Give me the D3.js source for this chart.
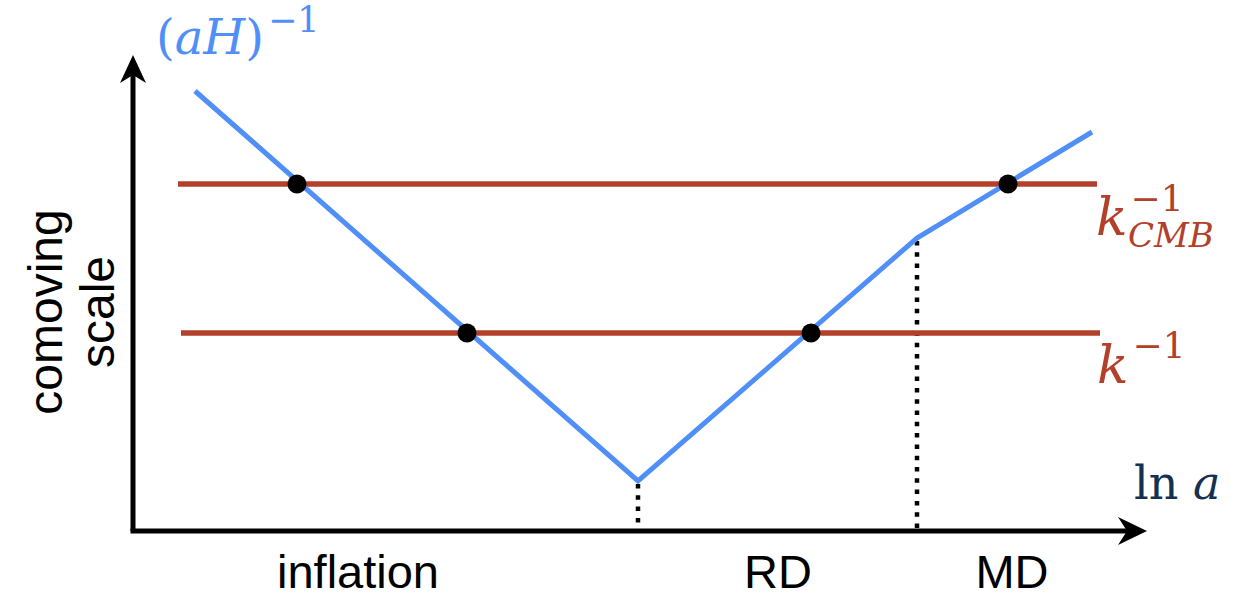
<!DOCTYPE html>
<html><head><meta charset="utf-8">
<script src="https://cdn.jsdelivr.net/npm/d3@7"></script>
<style>body{margin:0;background:#fff}</style>
</head><body><svg id="c" width="1245" height="598"></svg>
<script>
// (aH)^-1 curve, in ln a (x) and comoving scale (y) units
const curveX = [6.2, 50.5, 78.4, 95.9];
const curveY = [110, 12.5, 73.25, 99.75];
// horizontal scales: k_CMB^-1 and k^-1
const scaleNames = ["kCMB", "k"];
const scaleLevels = [86.75, 49.5];
const scaleStart = [4.5, 4.8];
const scaleEnd = [96.4, 96.7];
// horizon crossing points
const crossX = [16.4, 33.4, 67.8, 87.5];
const crossY = [86.75, 49.5, 49.5, 86.75];
// epoch transitions (end of inflation, matter-radiation equality)
const transX = [50.5, 78.4];
const transTop = [12.5, 73.25];
// epoch labels
const epochLabels = ["inflation", "RD", "MD"];
const epochX = [22.5, 64.5, 87.9];

const svg = d3.select("#c");
const x = d3.scaleLinear().domain([0, 100]).range([133, 1133]);
const y = d3.scaleLinear().domain([0, 100]).range([531, 131]);

const BLUE = "#4f8ff7", RED = "#b3402a", BLACK = "#000";

// axes
svg.append("path").attr("d", `M${x(0)},${y(0)}V${y(117)}`)
  .attr("stroke", BLACK).attr("stroke-width", 5).attr("fill", "none");
svg.append("path").attr("d", `M${x(0)-2.5},${y(0)}H${x(100.7)}`)
  .attr("stroke", BLACK).attr("stroke-width", 5).attr("fill", "none");
// arrow heads
const yt = y(119), xt = x(101.4);
svg.append("path").attr("d", `M${x(0)},${yt} L${x(0)-13},${yt+28} L${x(0)},${yt+20} L${x(0)+13},${yt+28} Z`).attr("fill", BLACK);
svg.append("path").attr("d", `M${xt},${y(0)} L${xt-29},${y(0)-14} L${xt-20},${y(0)} L${xt-29},${y(0)+14} Z`).attr("fill", BLACK);

// dotted transitions
transX.forEach((tx, i) => {
  svg.append("line").attr("x1", x(tx)).attr("x2", x(tx))
    .attr("y1", y(transTop[i]) + 3).attr("y2", y(0) - 2)
    .attr("stroke", BLACK).attr("stroke-width", 4.5).attr("stroke-dasharray", "4.5,6.8");
});

// red scales
scaleLevels.forEach((lv, i) => {
  svg.append("line").attr("x1", x(scaleStart[i])).attr("x2", x(scaleEnd[i]))
    .attr("y1", y(lv)).attr("y2", y(lv))
    .attr("stroke", RED).attr("stroke-width", 5.5);
});

// blue curve
const pts = curveX.map((v, i) => [x(v), y(curveY[i])]);
svg.append("path").attr("d", d3.line()(pts))
  .attr("stroke", BLUE).attr("stroke-width", 5).attr("fill", "none");

// dots
crossX.forEach((cx, i) => {
  svg.append("circle").attr("cx", x(cx)).attr("cy", y(crossY[i])).attr("r", 9.5).attr("fill", BLACK);
});

// epoch labels
epochLabels.forEach((t, i) => {
  svg.append("text").attr("x", x(epochX[i])).attr("y", 588)
    .attr("text-anchor", "middle").attr("font-family", "Liberation Sans, Arial, sans-serif")
    .attr("font-size", 47).attr("fill", BLACK).text(t);
});

// y-axis title
svg.append("text").attr("transform", "translate(62,312) rotate(-90)")
  .attr("text-anchor", "middle").attr("font-family", "Liberation Sans, Arial, sans-serif")
  .attr("font-size", 48).attr("fill", BLACK).text("comoving");
svg.append("text").attr("transform", "translate(114,312) rotate(-90)")
  .attr("text-anchor", "middle").attr("font-family", "Liberation Sans, Arial, sans-serif")
  .attr("font-size", 48).attr("fill", BLACK).text("scale");

const SERIF = "DejaVu Serif, Liberation Serif, serif";
// (aH)^-1 label
const t1 = svg.append("text").attr("x", 156).attr("y", 54).attr("font-family", SERIF).attr("fill", BLUE).attr("font-size", 48);
t1.append("tspan").text("(");
t1.append("tspan").attr("font-style", "italic").text("aH");
t1.append("tspan").text(")");
t1.append("tspan").attr("font-size", 35).attr("dy", -22).attr("dx", 4).text("−1");

// k_CMB^-1 (single text with sup + sub)
const t2 = svg.append("text").attr("x", 1096).attr("y", 235).attr("font-family", SERIF).attr("fill", RED).attr("font-size", 52);
t2.append("tspan").attr("font-style", "italic").text("k");
t2.append("tspan").attr("font-size", 36).attr("dy", -24).attr("dx", 3).text("−1");
t2.append("tspan").attr("font-size", 34).attr("font-style", "italic").attr("x", 1128).attr("dy", 36).text("CMB");

// k^-1
const t3 = svg.append("text").attr("x", 1097).attr("y", 383).attr("font-family", SERIF).attr("fill", RED).attr("font-size", 52);
t3.append("tspan").attr("font-style", "italic").text("k");
t3.append("tspan").attr("font-size", 36).attr("dy", -25).attr("dx", 4).text("−1");

// ln a
const t4 = svg.append("text").attr("x", 1134).attr("y", 499).attr("font-family", SERIF).attr("fill", "#14314f").attr("font-size", 46);
t4.append("tspan").text("ln ");
t4.append("tspan").attr("font-style", "italic").text("a");
</script></body></html>
